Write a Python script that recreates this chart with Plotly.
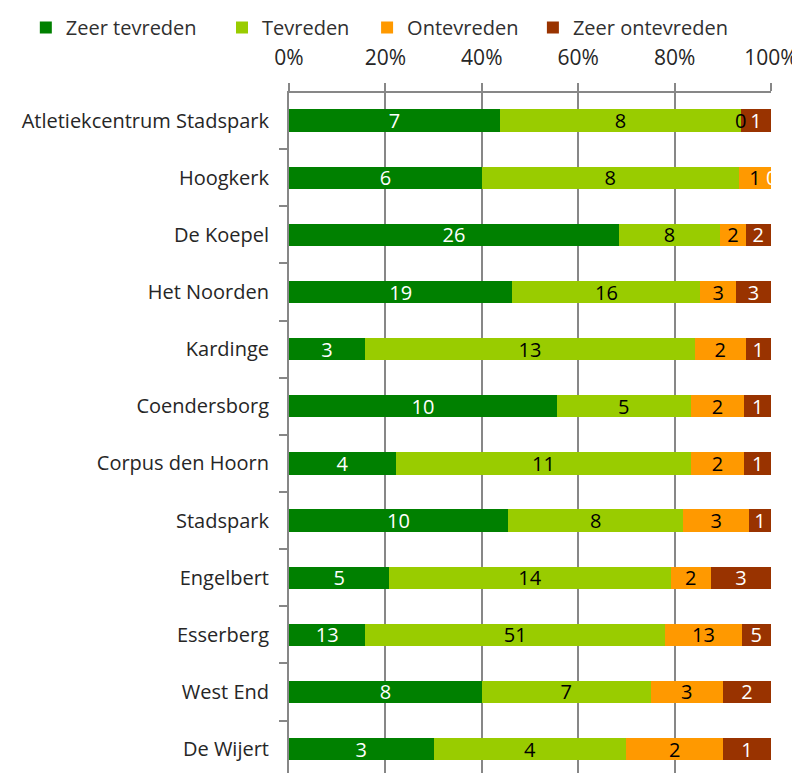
import plotly.graph_objects as go

categories = ["Atletiekcentrum Stadspark", "Hoogkerk", "De Koepel", "Het Noorden", "Kardinge",
              "Coendersborg", "Corpus den Hoorn", "Stadspark", "Engelbert", "Esserberg",
              "West End", "De Wijert"]
zeer_tevreden = [7, 6, 26, 19, 3, 10, 4, 10, 5, 13, 8, 3]
tevreden = [8, 8, 8, 16, 13, 5, 11, 8, 14, 51, 7, 4]
ontevreden = [0, 1, 2, 3, 2, 2, 2, 3, 2, 13, 3, 2]
zeer_ontevreden = [1, 0, 2, 3, 1, 1, 1, 1, 3, 5, 2, 1]
series_names = ["Zeer tevreden", "Tevreden", "Ontevreden", "Zeer ontevreden"]
tick_vals = [0, 20, 40, 60, 80, 100]
tick_text = ["0%", "20%", "40%", "60%", "80%", "100%"]

colors = ["#008000", "#99CC00", "#FF9900", "#993300"]
text_colors = ["white", "black", "black", "white"]
FONT = "Open Sans, Noto Sans, sans-serif"
FS = 20
GRID = "#878787"

# legend entry x positions (paper coords), one legend box per series
legend_x = [-0.546, -0.139, 0.162, 0.506]
legend_ids = ["legend", "legend2", "legend3", "legend4"]

series = [zeer_tevreden, tevreden, ontevreden, zeer_ontevreden]
fig = go.Figure()
for name, vals, c, tc, lid in zip(series_names, series, colors, text_colors, legend_ids):
    fig.add_trace(go.Bar(
        y=categories, x=vals, name=name, orientation="h",
        marker=dict(color=c, line=dict(width=0)),
        text=[str(v) if v != 0 else "" for v in vals], textposition="inside",
        insidetextanchor="middle", textangle=0,
        textfont=dict(color=tc, size=FS, family=FONT),
        width=0.39, legend=lid,
    ))

# labels for zero-width segments (shown at their boundary)
for s_idx, vals in enumerate(series):
    for i, v in enumerate(vals):
        if v == 0:
            tot = sum(s[i] for s in series)
            cum = sum(series[k][i] for k in range(s_idx)) / tot * 100
            fig.add_annotation(x=cum, y=categories[i], text="0", showarrow=False,
                               xanchor="center", yanchor="middle",
                               font=dict(size=FS, color=text_colors[s_idx], family=FONT))

legend_style = dict(orientation="h", y=1.0965, xanchor="left", yanchor="middle",
                    font=dict(size=FS, color="#303030", family=FONT), itemwidth=30,
                    bgcolor="rgba(0,0,0,0)")
legends = {lid: dict(x=lx, **legend_style) for lid, lx in zip(legend_ids, legend_x)}

fig.update_layout(
    barmode="stack", barnorm="percent",
    width=792, height=765,
    margin=dict(l=281, r=29, t=82, b=0),
    paper_bgcolor="white", plot_bgcolor="white",
    font=dict(family=FONT, color="#262626", size=FS),
    uniformtext=dict(minsize=FS, mode="show"),
    showlegend=True,
    xaxis=dict(side="top", range=[0, 100], tickvals=tick_vals, ticktext=tick_text,
               showgrid=True, gridcolor=GRID, gridwidth=2,
               showline=True, linecolor=GRID, linewidth=2,
               ticks="outside", ticklen=8, tickcolor=GRID, tickwidth=2,
               tickfont=dict(size=21), zeroline=False, automargin=False,
               ticklabelstandoff=10),
    yaxis=dict(type="category", range=[11.418, -0.483], tickson="boundaries",
               ticks="outside", ticklen=8, tickcolor=GRID, tickwidth=2,
               showline=True, linecolor=GRID, linewidth=2, showgrid=False,
               tickfont=dict(size=FS), automargin=False, ticklabelstandoff=14),
    **legends,
)

fig.write_html("out.html")
